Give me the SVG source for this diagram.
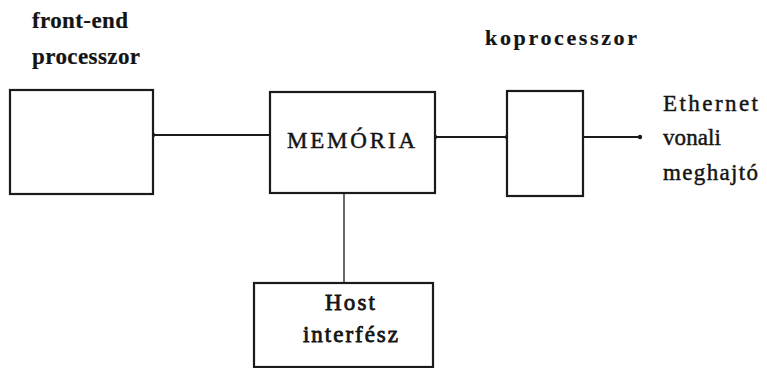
<svg xmlns="http://www.w3.org/2000/svg" width="767" height="368" viewBox="0 0 767 368">
  <style>
    .box { fill: #ffffff; stroke: #1a1a1a; stroke-width: 2.2; }
    .wire { fill: none; stroke: #1a1a1a; stroke-width: 2; }
    .thin { fill: none; stroke: #1a1a1a; stroke-width: 1.3; }
    .lbl { font-family: "Liberation Serif", "Times New Roman", serif; fill: #141414; stroke: #141414; stroke-width: 0.45; }
    .b { font-weight: bold; stroke-width: 0.2; }
    .m { stroke-width: 0.8; }
  </style>
  <defs>
    <marker id="dot" markerWidth="6" markerHeight="6" refX="3" refY="3" markerUnits="userSpaceOnUse">
      <circle cx="3" cy="3" r="2.2" fill="#1a1a1a"/>
    </marker>
  </defs>
  <rect width="767" height="368" fill="#ffffff"/>

  <!-- connectors -->
  <g id="connectors">
    <line class="wire" x1="153" y1="135" x2="270" y2="135" marker-start="url(#dot)"/>
    <line class="wire" x1="435" y1="137" x2="507" y2="137" marker-start="url(#dot)" marker-end="url(#dot)"/>
    <line class="wire" x1="583" y1="137" x2="640" y2="137" marker-end="url(#dot)"/>
    <line class="thin" x1="344" y1="193" x2="344" y2="283"/>
  </g>

  <!-- front-end processor -->
  <g id="frontend">
    <rect class="box" x="10" y="90" width="143" height="104"/>
    <text class="lbl b" x="32" y="28" font-size="23" textLength="96" lengthAdjust="spacing">front-end</text>
    <text class="lbl b" x="32" y="64" font-size="23" textLength="108" lengthAdjust="spacing">processzor</text>
  </g>

  <!-- memory -->
  <g id="memoria">
    <rect class="box" x="270" y="92" width="165" height="101"/>
    <text class="lbl" x="287" y="148" font-size="23" textLength="128" lengthAdjust="spacing">MEMÓRIA</text>
  </g>

  <!-- coprocessor -->
  <g id="koprocesszor">
    <rect class="box" x="507" y="91" width="76" height="105"/>
    <text class="lbl b" x="485" y="45" font-size="22" textLength="152" lengthAdjust="spacing">koprocesszor</text>
  </g>

  <!-- Ethernet line driver label -->
  <g id="ethernet">
    <text class="lbl" x="663" y="111" font-size="23" textLength="95" lengthAdjust="spacing">Ethernet</text>
    <text class="lbl" x="663" y="145" font-size="23" textLength="58" lengthAdjust="spacing">vonali</text>
    <text class="lbl" x="663" y="180" font-size="23" textLength="95" lengthAdjust="spacing">meghajtó</text>
  </g>

  <!-- host interface -->
  <g id="host">
    <rect class="box" x="254" y="283" width="179" height="84"/>
    <text class="lbl m" x="325" y="310" font-size="23" textLength="50" lengthAdjust="spacing">Host</text>
    <text class="lbl m" x="303" y="342" font-size="23" textLength="95" lengthAdjust="spacing">interfész</text>
  </g>
</svg>
